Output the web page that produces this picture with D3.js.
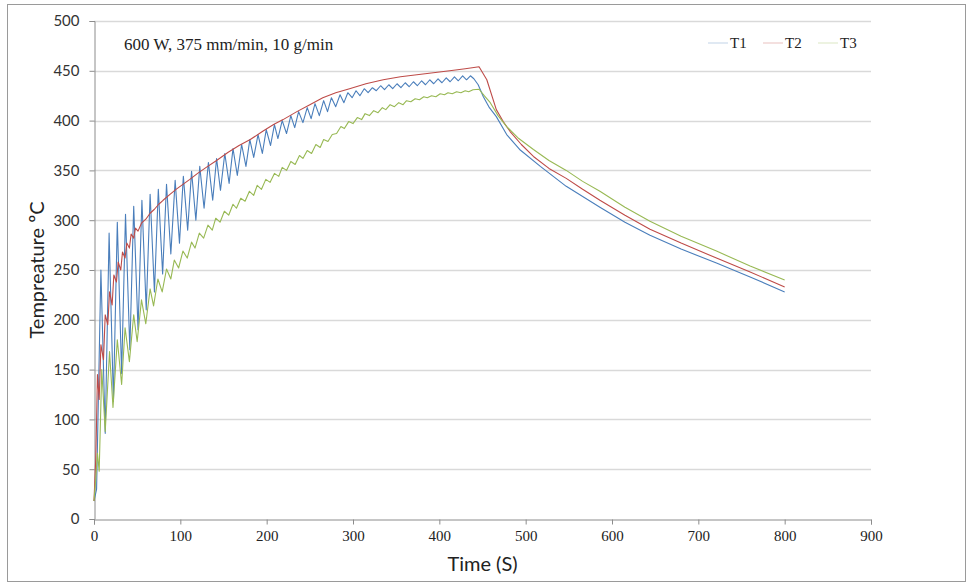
<!DOCTYPE html>
<html>
<head>
<meta charset="utf-8">
<script src="https://cdn.jsdelivr.net/npm/d3@7"></script>
<style>
  body { margin: 0; background: #fff; }
</style>
</head>
<body>
<div id="svganchor"></div>
<script>
let width = 971;
let height = 585;
let margin = { top: 21, right: 100, bottom: 66, left: 94 };

// axis ticks
const xTicks = [0, 100, 200, 300, 400, 500, 600, 700, 800, 900];
const yTicks = [0, 50, 100, 150, 200, 250, 300, 350, 400, 450, 500];
const seriesNames = ["T1", "T2", "T3"];
const note = "600 W, 375 mm/min, 10 g/min";

// T1 [time s, temperature C] (peaks and troughs)
const t1 = [
  [0, 18], [3, 30], [8, 250], [13, 86], [17.5, 287], [22.5, 118], [27, 298], [32, 146],
  [36.5, 306], [41.5, 170], [46, 314], [51, 190], [55.5, 320], [60.5, 210], [65, 326],
  [70, 228], [74.5, 331], [79.5, 246], [84, 336], [89, 266], [94, 340], [99, 277],
  [103.5, 344], [108.5, 290], [113, 349], [118, 300], [122.5, 354], [127.5, 312],
  [132.5, 358], [137.5, 320], [142, 362], [146.5, 330], [151.5, 367], [156.5, 337],
  [161, 372], [166, 345], [171, 376], [176, 354], [180.5, 381], [185, 363], [190, 386],
  [195, 367], [199.5, 391], [204.5, 375], [209, 396], [213, 382], [218, 400], [223, 387],
  [228, 405], [232.5, 393], [237, 409], [242, 398], [247, 413], [251.5, 402], [256, 417],
  [261, 405], [266, 420], [270.5, 409], [275, 423], [280, 414], [285, 426], [289.5, 418],
  [294, 428], [299, 423], [303.5, 430], [308, 425], [313, 432], [317.5, 428], [322.5, 433],
  [327, 430], [332, 435], [336.5, 431], [341.5, 436], [346, 432], [351, 437], [355.5, 433],
  [360.5, 438], [365, 434], [370, 439], [374.5, 435], [379.5, 440], [384, 436], [389, 441],
  [393.5, 437], [398.5, 442], [403, 438], [408, 443], [412.5, 439], [417.5, 444],
  [422, 440], [427, 445], [431.5, 441], [436, 445], [440, 442],
  [445, 436], [451, 424], [458, 413], [466, 404], [478, 386], [493, 371], [517, 354],
  [547, 334], [586, 313], [615, 298], [644, 285], [680, 271], [721, 257], [760, 243],
  [800, 228]
];

// T2
const t2 = [
  [0, 18], [2, 60], [3, 99], [4, 145], [6, 120], [8, 175], [11, 160], [13, 205], [16, 195],
  [18, 228], [21, 215], [23, 245], [26, 238], [28, 258], [31, 250], [33, 268], [36, 262],
  [38, 277], [41, 272], [43, 286], [46, 282], [48, 292], [51, 289], [55, 297], [60, 301],
  [65, 307], [70, 311], [75, 316], [80, 320], [88, 326], [95, 331], [103, 336], [111, 341],
  [120, 347], [130, 353], [142, 360], [155, 368], [168, 375], [181, 381], [195, 389],
  [208, 396], [219, 401], [235, 409], [250, 416], [265, 423], [280, 428], [296, 432],
  [315, 437], [335, 441], [355, 444], [374, 446], [393, 448], [412, 450], [430, 452],
  [446, 454],
  [455, 441], [466, 411], [474, 399], [482, 389], [495, 376], [509, 364], [527, 352],
  [547, 342], [566, 331], [586, 320], [615, 305], [644, 291], [680, 277], [721, 262],
  [760, 248], [800, 233]
];

// T3
const t3 = [
  [0, 18], [2, 40], [4, 66], [6, 48], [9, 150], [13, 88], [18, 168], [22, 112], [27, 180],
  [32, 135], [36, 192], [41, 158], [46, 205], [50, 178], [55, 220], [60, 196], [65, 231],
  [69, 214], [74, 241], [79, 228], [84, 251], [89, 241], [93, 260], [98, 252], [103, 269],
  [108, 262], [113, 278], [117, 272], [122, 287], [127, 282], [132, 295], [137, 290],
  [141, 302], [146, 298], [151, 309], [156, 305], [161, 316], [165, 312], [170, 322],
  [175, 319], [180, 329], [185, 325], [189, 335], [194, 331], [199, 341], [204, 338],
  [209, 347], [214, 344], [218, 353], [223, 350], [228, 359], [233, 356], [238, 365],
  [242, 362], [247, 370], [252, 367], [257, 376], [262, 373], [266, 381], [271, 379],
  [276, 386], [281, 387], [286, 394], [290, 392], [295, 399], [300, 397], [305, 403],
  [310, 401], [314, 407], [319, 405], [324, 410], [329, 408], [334, 413], [338, 411],
  [343, 416], [348, 414], [353, 418], [358, 416], [362, 420], [367, 419], [372, 422],
  [377, 421], [382, 424], [386, 423], [391, 425], [396, 424], [401, 427], [406, 426],
  [410, 428], [415, 427], [420, 429], [425, 428], [430, 430], [434, 429], [439, 431],
  [446, 431.5],
  [452, 425], [459, 418], [468, 405], [478, 394], [492, 382], [509, 371], [527, 360],
  [547, 350], [566, 339], [586, 329], [615, 313], [644, 299], [680, 284], [721, 269],
  [760, 254], [800, 240]
];

const colors = ["#4a7ebb", "#be4b48", "#98b954"];

let svg = d3.select("#svganchor").append("svg")
  .attr("width", width).attr("height", height);

// outer frame
svg.append("rect")
  .attr("x", 7.5).attr("y", 4.5)
  .attr("width", 958).attr("height", 577)
  .attr("fill", "none").attr("stroke", "#9a9a9a");

let xScale = d3.scaleLinear().domain([0, 900]).range([margin.left, width - margin.right]);
let yScale = d3.scaleLinear().domain([0, 500]).range([height - margin.bottom, margin.top]);

// horizontal gridlines
svg.append("g")
  .selectAll("line")
  .data(yTicks.filter(d => d > 0))
  .enter()
  .append("line")
  .attr("x1", xScale(0)).attr("x2", xScale(900))
  .attr("y1", d => Math.round(yScale(d)) + 0.5)
  .attr("y2", d => Math.round(yScale(d)) + 0.5)
  .attr("stroke", "#d9d9d9").attr("stroke-width", 1.3);

// y axis
let yAxis = d3.axisLeft(yScale).tickValues(yTicks).tickSize(5).tickPadding(10);
let gy = svg.append("g")
  .attr("transform", "translate(" + (xScale(0) + 0.5) + ",0)")
  .call(yAxis);
gy.select(".domain").attr("stroke", "#8c8c8c");
gy.selectAll(".tick line").attr("stroke", "#8c8c8c");
gy.selectAll("text")
  .attr("font-family", "Lato, 'Open Sans', sans-serif")
  .attr("font-size", 15).attr("fill", "#333");

// x axis
let xAxis = d3.axisBottom(xScale).tickValues(xTicks).tickSize(5).tickPadding(6);
let gx = svg.append("g")
  .attr("transform", "translate(0," + (Math.round(yScale(0)) + 0.5) + ")")
  .call(xAxis);
gx.select(".domain").attr("stroke", "#8c8c8c");
gx.selectAll(".tick line").attr("stroke", "#8c8c8c");
gx.selectAll("text")
  .attr("font-family", "'Liberation Serif', 'Times New Roman', serif")
  .attr("font-size", 15).attr("fill", "#222");

// series
let line = d3.line()
  .x(d => xScale(d[0]))
  .y(d => yScale(d[1]));

[t1, t2, t3].forEach(function (s, i) {
  svg.append("path")
    .datum(s)
    .attr("d", line)
    .attr("fill", "none")
    .attr("stroke", colors[i])
    .attr("stroke-width", 1.1)
    .attr("stroke-linejoin", "round");
});

// axis titles
svg.append("text")
  .attr("x", (xScale(0) + xScale(900)) / 2)
  .attr("y", 571)
  .attr("text-anchor", "middle")
  .attr("font-family", "Lato, 'Open Sans', sans-serif")
  .attr("font-size", 20).attr("fill", "#222")
  .text("Time (S)");

svg.append("text")
  .attr("transform", "translate(44," + yScale(250) + ") rotate(-90)")
  .attr("text-anchor", "middle")
  .attr("font-family", "Lato, 'Open Sans', sans-serif")
  .attr("font-size", 20).attr("fill", "#222")
  .text("Tempreature ºC");

// condition note
svg.append("text")
  .attr("x", 124).attr("y", 50)
  .attr("font-family", "'Liberation Serif', 'Times New Roman', serif")
  .attr("font-size", 17).attr("fill", "#222")
  .text(note);

// legend
let legend = svg.append("g").attr("transform", "translate(708,43)");
seriesNames.forEach(function (name, i) {
  let g = legend.append("g").attr("transform", "translate(" + (i * 55) + ",0)");
  g.append("line")
    .attr("x1", 0).attr("x2", 20).attr("y1", 0).attr("y2", 0)
    .attr("stroke", colors[i]).attr("stroke-width", 1).attr("stroke-opacity", 0.35);
  g.append("text")
    .attr("x", 22).attr("y", 5)
    .attr("font-family", "'Liberation Serif', 'Times New Roman', serif")
    .attr("font-size", 15).attr("fill", "#222")
    .text(name);
});
</script>
</body>
</html>
